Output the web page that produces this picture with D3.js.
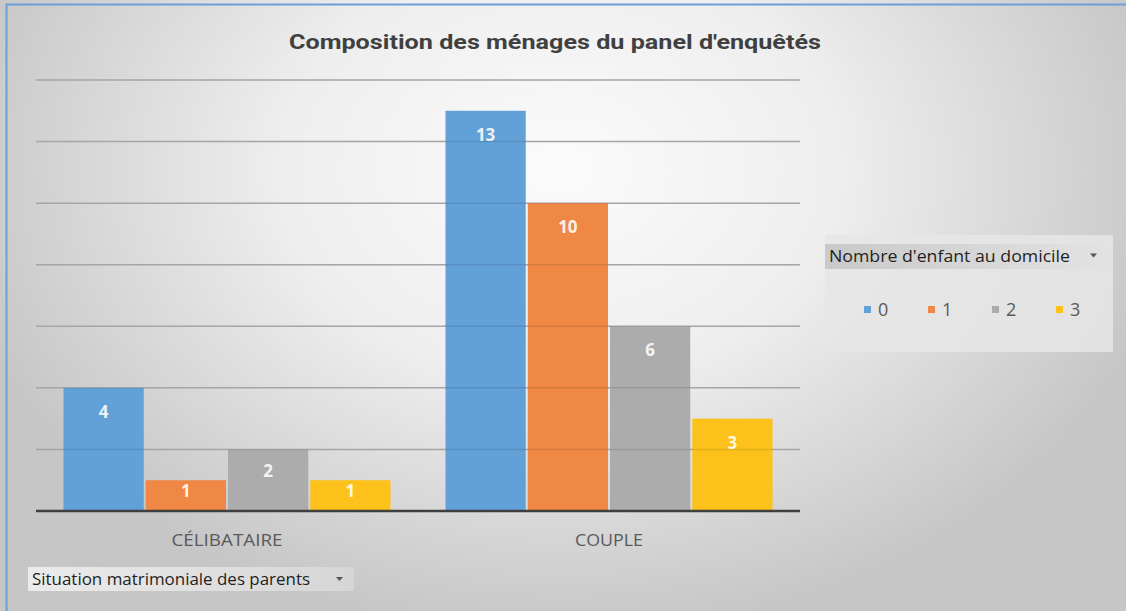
<!DOCTYPE html>
<html><head><meta charset="utf-8">
<script src="https://cdn.jsdelivr.net/npm/d3@7"></script>
<style>html,body{margin:0;padding:0;background:#fff;}svg{display:block;}</style>
</head><body>
<script>
const categories = ["CÉLIBATAIRE", "COUPLE"];
const seriesNames = ["0", "1", "2", "3"];
const values0 = [4, 13];
const values1 = [1, 10];
const values2 = [2, 6];
const values3 = [1, 3];
const yTicks = [0, 2, 4, 6, 8, 10, 12, 14];
const colors = ["#62a0d8", "#ee8844", "#acacac", "#fcc21b"];
const title = "Composition des ménages du panel d'enquêtés";
const legendTitle = "Nombre d'enfant au domicile";
const axisFieldTitle = "Situation matrimoniale des parents";

const seriesValues = [values0, values1, values2, values3];
const data = categories.map((c, i) => ({cat: c, vals: seriesNames.map((s, j) => ({s, j, v: seriesValues[j][i]}))}));

const W = 1126, H = 611;
const svg = d3.select("body").append("svg").attr("width", W).attr("height", H);
const defs = svg.append("defs");
const rg = defs.append("radialGradient").attr("id", "bg").attr("gradientUnits", "userSpaceOnUse")
  .attr("cx", 560).attr("cy", 170).attr("r", 620)
  .attr("gradientTransform", "translate(560,170) scale(1,0.75) translate(-560,-170)");
rg.append("stop").attr("offset", "0").attr("stop-color", "#fbfbfb");
rg.append("stop").attr("offset", "0.45").attr("stop-color", "#eeeeee");
rg.append("stop").attr("offset", "1").attr("stop-color", "#c6c6c6");

svg.append("rect").attr("width", W).attr("height", H).attr("fill", "url(#bg)");
// blue frame (top + left)
svg.append("line").attr("x1", 6).attr("x2", W).attr("y1", 4.5).attr("y2", 4.5).attr("stroke", "#6a9fd8").attr("stroke-width", 2);
svg.append("line").attr("x1", 6.5).attr("x2", 6.5).attr("y1", 4).attr("y2", H).attr("stroke", "#6a9fd8").attr("stroke-width", 2);

const x0 = d3.scaleBand().domain(categories).range([36, 800]).paddingInner(0.144).paddingOuter(0.072);
const x1 = d3.scaleBand().domain(seriesNames).range([0, x0.bandwidth()]).paddingInner(0.025);
const y = d3.scaleLinear().domain([0, 14]).range([511, 80]);

// gridlines behind
const grid = svg.append("g");
grid.selectAll("line").data(yTicks.filter(t => t > 0)).join("line")
  .attr("x1", 36).attr("x2", 800).attr("y1", d => y(d)).attr("y2", d => y(d))
  .attr("stroke", "#b9b9b9").attr("stroke-width", 1.5);

// bars
const groups = svg.append("g").selectAll("g").data(data).join("g")
  .attr("transform", d => `translate(${x0(d.cat)},0)`);
groups.selectAll("rect").data(d => d.vals).join("rect")
  .attr("x", d => x1(d.s)).attr("width", x1.bandwidth())
  .attr("y", d => y(d.v)).attr("height", d => y(0) - y(d.v))
  .attr("fill", d => colors[d.j]);

// faint grid over bars
svg.append("g").selectAll("line").data(yTicks.filter(t => t > 0)).join("line")
  .attr("x1", 36).attr("x2", 800).attr("y1", d => y(d)).attr("y2", d => y(d))
  .attr("stroke", "rgba(0,0,0,0.10)").attr("stroke-width", 1.5);

// value labels
groups.selectAll("text").data(d => d.vals).join("text")
  .attr("x", d => x1(d.s) + x1.bandwidth() / 2)
  .attr("y", d => { const h = y(0) - y(d.v); return y(d.v) + Math.min(24, h * 0.35); })
  .attr("dy", "0.35em").attr("text-anchor", "middle")
  .attr("font-family", "'Open Sans', sans-serif").attr("font-weight", 700).attr("font-size", 17)
  .attr("fill", "#ffffff").attr("fill-opacity", 0.9)
  .text(d => d.v);

// baseline axis
const catWidths = {"CÉLIBATAIRE": 111, "COUPLE": 68};
const xAxis = d3.axisBottom(x0).tickSize(0).tickPadding(25);
const ax = svg.append("g").attr("transform", `translate(0,${y(0)})`).call(xAxis);
ax.select(".domain").attr("d", "M36,0H800").attr("stroke", "#3f3f3f").attr("stroke-width", 2.5);
ax.selectAll("text").attr("font-family", "'Open Sans', sans-serif").attr("font-size", 17).attr("fill", "#595959")
  .attr("dy", "0.6em")
  .attr("textLength", d => catWidths[d]).attr("lengthAdjust", "spacingAndGlyphs");

// title
svg.append("text").attr("x", 555).attr("y", 49).attr("text-anchor", "middle")
  .attr("font-family", "Roboto, sans-serif").attr("font-weight", 700).attr("font-size", 20)
  .attr("textLength", 532).attr("lengthAdjust", "spacingAndGlyphs")
  .attr("fill", "#404040").text(title);

// legend panel
const lg = svg.append("g");
lg.append("rect").attr("x", 825).attr("y", 235).attr("width", 288).attr("height", 117).attr("fill", "#e6e6e6").attr("fill-opacity", 0.85);
const hg = defs.append("linearGradient").attr("id", "hdr").attr("x1", 0).attr("x2", 1).attr("y1", 0).attr("y2", 0);
hg.append("stop").attr("offset", "0").attr("stop-color", "#c9c9c9");
hg.append("stop").attr("offset", "1").attr("stop-color", "#e3e3e3");
lg.append("rect").attr("x", 825).attr("y", 244).attr("width", 288).attr("height", 25).attr("fill", "url(#hdr)");
lg.append("text").attr("x", 829).attr("y", 262).attr("font-family", "'Open Sans', sans-serif").attr("font-size", 16).attr("fill", "#1f1f1f")
  .attr("textLength", 241).attr("lengthAdjust", "spacingAndGlyphs").text(legendTitle);
lg.append("path").attr("d", "M1090,253.5h7l-3.5,4z").attr("fill", "#555");
const lx = d3.scalePoint().domain(seriesNames).range([864, 1056]);
const items = lg.selectAll("g.it").data(seriesNames).join("g").attr("class", "it")
  .attr("transform", d => `translate(${lx(d)},313)`);
items.append("rect").attr("x", 0).attr("y", -7).attr("width", 7).attr("height", 7).attr("fill", (d, i) => colors[i]);
items.append("text").attr("x", 14).attr("y", 0).attr("dy", "0.15em").attr("font-family", "'Open Sans', sans-serif").attr("font-size", 18).attr("fill", "#595959").text(d => d);

// axis field button
const bg2 = defs.append("linearGradient").attr("id", "btn").attr("x1", 0).attr("x2", 1).attr("y1", 0).attr("y2", 0);
bg2.append("stop").attr("offset", "0").attr("stop-color", "#ebebeb");
bg2.append("stop").attr("offset", "1").attr("stop-color", "#d6d6d6");
svg.append("rect").attr("x", 28).attr("y", 567).attr("width", 326).attr("height", 24).attr("fill", "url(#btn)");
svg.append("text").attr("x", 32).attr("y", 585).attr("font-family", "'Open Sans', sans-serif").attr("font-size", 16).attr("fill", "#1f1f1f")
  .attr("textLength", 278).attr("lengthAdjust", "spacingAndGlyphs").text(axisFieldTitle);
svg.append("path").attr("d", "M336,577h7l-3.5,4z").attr("fill", "#555");
</script>
</body></html>
